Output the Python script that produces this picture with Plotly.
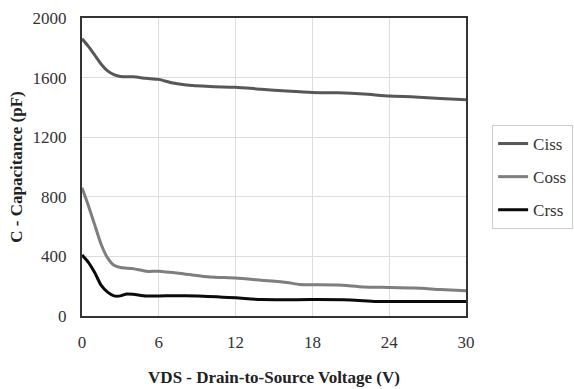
import plotly.graph_objects as go

vds_ciss = [0, 0.5, 1, 1.5, 2, 2.5, 3, 4, 5, 6, 7, 8, 10, 12, 14, 16, 18, 20, 22, 24, 26, 28, 30]
ciss = [1860, 1810, 1750, 1690, 1645, 1620, 1608, 1605, 1595, 1588, 1565, 1552, 1540, 1535, 1522, 1510, 1500, 1498, 1490, 1476, 1470, 1460, 1452]

vds_coss = [0, 0.5, 1, 1.5, 2, 2.5, 3, 4, 5, 6, 8, 10, 12, 14, 16, 17, 18, 20, 22, 24, 26, 28, 30]
coss = [860, 740, 610, 480, 390, 340, 325, 318, 300, 300, 282, 262, 255, 240, 225, 212, 210, 208, 195, 192, 188, 178, 170]

vds_crss = [0, 0.5, 1, 1.5, 2, 2.5, 3, 3.5, 4, 5, 6, 9, 12, 14, 18, 21, 23, 26, 30]
crss = [410, 360, 290, 205, 160, 135, 135, 148, 146, 135, 135, 135, 122, 110, 110, 108, 98, 98, 98]

x_ticks = [0, 6, 12, 18, 24, 30]
y_ticks = [0, 400, 800, 1200, 1600, 2000]

fig = go.Figure()
fig.add_trace(go.Scatter(x=vds_ciss, y=ciss, mode="lines", name="Ciss", legendgroup="a",
                         line=dict(color="#575757", width=3, shape="spline", smoothing=0.6)))
fig.add_trace(go.Scatter(x=vds_coss, y=coss, mode="lines", name="Coss", legendgroup="b",
                         line=dict(color="#7e7e7e", width=3, shape="spline", smoothing=0.6)))
fig.add_trace(go.Scatter(x=vds_crss, y=crss, mode="lines", name="Crss", legendgroup="c",
                         line=dict(color="#0a0a0a", width=3, shape="spline", smoothing=0.6)))

font_family = "Liberation Serif"
fig.update_layout(
    width=574, height=389,
    margin=dict(l=82, r=108, t=18, b=73, autoexpand=False),
    paper_bgcolor="white", plot_bgcolor="white",
    font=dict(family=font_family, size=16, color="#333333"),
    showlegend=True,
    legend=dict(x=1.068, y=0.641, xanchor="left", yanchor="top",
                bordercolor="#cccccc", borderwidth=1,
                font=dict(family=font_family, size=17, color="#333333"),
                tracegroupgap=8),
    xaxis=dict(range=[0, 30], tickvals=x_ticks, ticktext=[str(v) for v in x_ticks],
               showgrid=True, gridcolor="#dddddd", gridwidth=1,
               showline=True, linecolor="#333333", linewidth=2, mirror=True,
               zeroline=False, ticks="", ticklen=0, ticklabelstandoff=10,
               tickfont=dict(family=font_family, size=17, color="#333333"),
               title=dict(text="<b>VDS - Drain-to-Source Voltage (V)</b>", standoff=20,
                          font=dict(family=font_family, size=17, color="#222222"))),
    yaxis=dict(range=[0, 2000], tickvals=y_ticks, ticktext=[str(v) for v in y_ticks],
               showgrid=True, gridcolor="#dddddd", gridwidth=1,
               showline=True, linecolor="#333333", linewidth=2, mirror=True,
               zeroline=False, ticks="", ticklen=0, ticklabelstandoff=10,
               tickfont=dict(family=font_family, size=17, color="#333333"),
               title=dict(text="<b>C - Capacitance (pF)</b>", standoff=6,
                          font=dict(family=font_family, size=17, color="#222222"))),
)

fig.write_html("out.html")
